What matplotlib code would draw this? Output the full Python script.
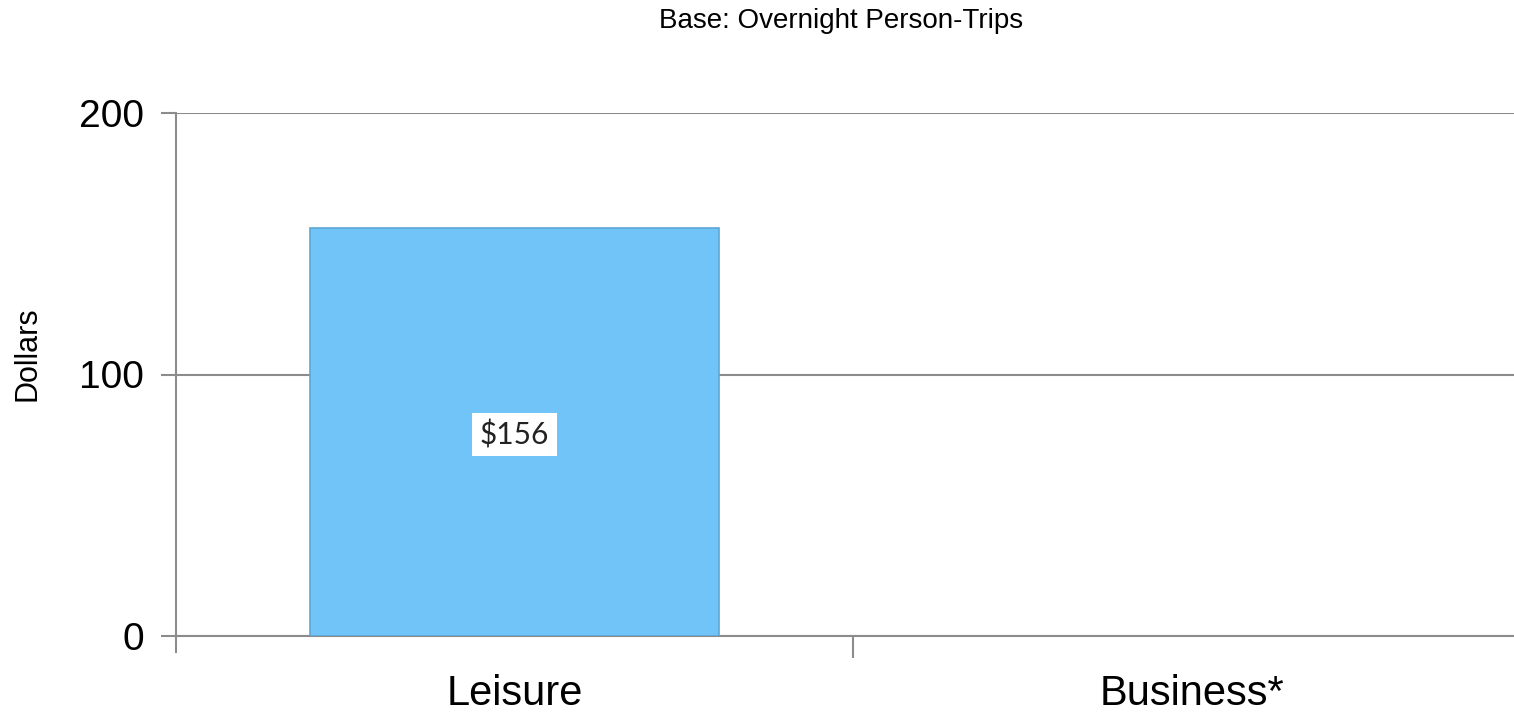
import matplotlib
matplotlib.use("Agg")
import matplotlib.pyplot as plt
import numpy as np

categories = ["Leisure", "Business*"]
values = [156, np.nan]
value_labels = ["$156", ""]
y_ticks = [0, 100, 200]
title = "Base: Overnight Person-Trips"
y_label = "Dollars"

W, H = 1514, 715
fig = plt.figure(figsize=(W / 100, H / 100), dpi=100)
left, right, top, bottom = 176, 1530, 113, 636
ax = fig.add_axes([left / W, 1 - bottom / H, (right - left) / W, (bottom - top) / H])

x = np.arange(len(categories))
bars = ax.bar(x, values, width=0.604, color="#70C4F8", edgecolor="#5FA6D6",
              linewidth=1.2, zorder=3)

for xi, v, lab in zip(x, values, value_labels):
    if lab and not np.isnan(v):
        ax.text(xi, v / 2, lab, ha="center", va="center_baseline", fontsize=21.5,
                family=["Lato", "DejaVu Sans"], color="#222222", zorder=5,
                bbox=dict(boxstyle="square,pad=0.25", fc="white", ec="none"))

ax.set_xlim(-0.5, len(categories) - 0.5)
ax.set_ylim(0, 200)
ax.set_yticks(y_ticks)
ax.set_yticklabels([str(t) for t in y_ticks], fontsize=28,
                   family=["Liberation Sans", "DejaVu Sans"])
ax.yaxis.grid(True, color="#8C8C8C", linewidth=1.5, zorder=0)
ax.set_axisbelow(True)

ax.set_xticks([0.5])
ax.set_xticklabels([""])
ax.tick_params(axis="x", length=16, width=1.5, color="#8C8C8C")
ax.tick_params(axis="y", length=11, width=1.5, color="#8C8C8C", pad=12)

for xi, c in zip(x, categories):
    ax.text(xi, -0.072, c, transform=ax.get_xaxis_transform(), ha="center", va="top",
            fontsize=30, family=["Liberation Sans", "DejaVu Sans"],
            color="black")

for s in ["top", "right"]:
    ax.spines[s].set_visible(False)
ax.spines["left"].set_color("#8C8C8C")
ax.spines["left"].set_linewidth(1.5)
ax.spines["left"].set_bounds(0, 200)
ax.spines["bottom"].set_color("#8C8C8C")
ax.spines["bottom"].set_linewidth(1.5)

# extend the left spine below zero like the reference
ax.plot([-0.5, -0.5], [0, -6.2], color="#8C8C8C", lw=1.5, clip_on=False, zorder=4)

fig.text(841 / W, 1 - 21 / H, title, ha="center", va="center", fontsize=20,
         family=["Liberation Sans", "DejaVu Sans"])
fig.text(28 / W, 1 - 354 / H, y_label, ha="center", va="center", fontsize=22,
         rotation=90, family=["Liberation Sans", "DejaVu Sans"])

fig.savefig("out.png", dpi=100)
